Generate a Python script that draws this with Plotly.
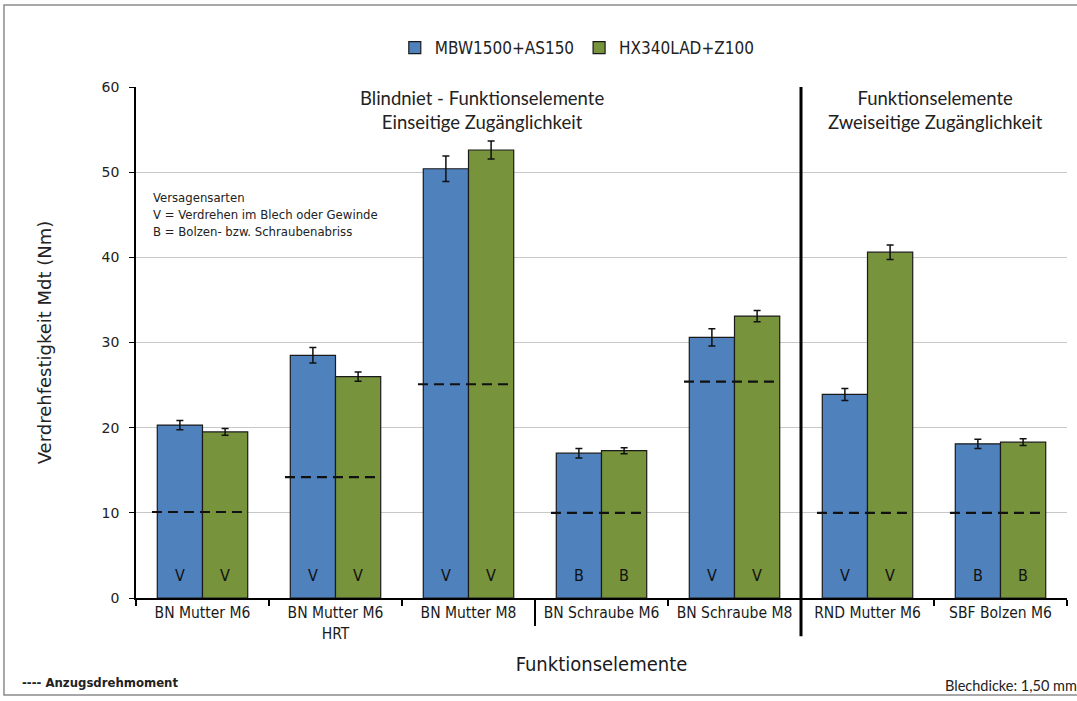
import plotly.graph_objects as go

# Test data: torsional strength of functional elements in two sheet materials
categories = ["BN Mutter M6", "BN Mutter M6<br>HRT", "BN Mutter M8", "BN Schraube M6",
              "BN Schraube M8", "RND Mutter M6", "SBF Bolzen M6"]
series_names = ["MBW1500+AS150", "HX340LAD+Z100"]
mbw_values = [20.3, 28.5, 50.4, 17.0, 30.6, 23.9, 18.1]
mbw_errors = [0.55, 0.9, 1.5, 0.55, 1.0, 0.7, 0.55]
hx_values = [19.5, 26.0, 52.6, 17.3, 33.1, 40.6, 18.3]
hx_errors = [0.4, 0.55, 1.05, 0.35, 0.65, 0.85, 0.4]
tightening_torque = [10.1, 14.2, 25.1, 10.0, 25.4, 10.0, 10.0]
mbw_failure = ["V", "V", "V", "B", "V", "V", "B"]
hx_failure = ["V", "V", "V", "B", "V", "V", "B"]

BLUE = "#4F81BD"
GREEN = "#77933C"
COND = "DejaVu Sans Condensed"
idx = list(range(len(categories)))
half = 0.34  # half width of a bar pair in category units

fig = go.Figure()
for name, vals, errs, col in [(series_names[0], mbw_values, mbw_errors, BLUE),
                              (series_names[1], hx_values, hx_errors, GREEN)]:
    fig.add_trace(go.Bar(
        x=idx, y=vals, name=name,
        marker=dict(color=col, line=dict(color="#1a1a1a", width=1.2)),
        error_y=dict(type="data", array=errs, visible=True, color="#111111",
                     thickness=1.5, width=3.5),
    ))

# Tightening torque reference lines (dashed) across each bar pair
for i, t in zip(idx, tightening_torque):
    fig.add_trace(go.Scatter(
        x=[i - half - 0.04, i + half], y=[t, t], mode="lines",
        line=dict(color="#111111", width=2.2, dash="10px,6px"),
        showlegend=False, hoverinfo="skip",
    ))

# Failure mode letters inside the bars
for i in idx:
    for off, lab in [(-half / 2, mbw_failure[i]), (half / 2, hx_failure[i])]:
        fig.add_annotation(x=i + off, y=2.6, text=lab, showarrow=False,
                           font=dict(family=COND, size=16, color="#111111"))

# Group separators
fig.add_shape(type="line", xref="x", yref="paper", x0=4.5, x1=4.5, y0=-0.075, y1=1.0,
              line=dict(color="black", width=3))
fig.add_shape(type="line", xref="x", yref="paper", x0=2.5, x1=2.5, y0=-0.055, y1=0.0,
              line=dict(color="black", width=2))

# Outer frame
fig.add_shape(type="rect", xref="paper", yref="paper", x0=-0.1418, x1=1.03,
              y0=-0.1898, y1=1.1605, line=dict(color="#8c8c8c", width=1.5), layer="below")

fig.add_annotation(x=2.1, y=1.003, xref="x", yref="paper", yanchor="top",
                   text="Blindniet - Funktionselemente<br>Einseitige Zugänglichkeit",
                   showarrow=False, font=dict(family="Lato", size=18.5, color="#222222"))
fig.add_annotation(x=5.51, y=1.003, xref="x", yref="paper", yanchor="top",
                   text="Funktionselemente<br>Zweiseitige Zugänglichkeit",
                   showarrow=False, font=dict(family="Lato", size=18.5, color="#222222"))
fig.add_annotation(x=-0.39, y=48.2, xref="x", yref="y", xanchor="left", yanchor="top",
                   align="left",
                   text="Versagensarten<br>V = Verdrehen im Blech oder Gewinde<br>"
                        "B = Bolzen- bzw. Schraubenabriss",
                   showarrow=False, font=dict(family=COND, size=13, color="#222222"))
fig.add_annotation(x=-0.125, y=-0.166, xref="paper", yref="paper", xanchor="left",
                   yanchor="middle",
                   text="<b>---- Anzugsdrehmoment</b>", showarrow=False,
                   font=dict(family=COND, size=13, color="#222222"))
fig.add_annotation(x=0.8668, y=-0.171, xref="paper", yref="paper", xanchor="left",
                   yanchor="middle",
                   text="Blechdicke: 1,50 mm", showarrow=False,
                   font=dict(family="Lato", size=14.5, color="#222222"))

fig.update_layout(
    width=1077, height=701,
    margin=dict(l=136, r=10, t=87, b=103),
    paper_bgcolor="white", plot_bgcolor="white",
    barmode="group", bargap=1 - 2 * half, bargroupgap=0,
    legend=dict(orientation="h", x=0.474, xanchor="center", y=1.076, yanchor="middle",
                font=dict(family=COND, size=17, color="#222222"), itemwidth=30,
                traceorder="normal"),
    xaxis=dict(
        range=[-0.5, 6.5], tickmode="array", tickvals=idx, ticktext=categories,
        ticks="", showgrid=False, zeroline=False,
        showline=True, linecolor="black", linewidth=1.5,
        tickfont=dict(family=COND, size=15.5, color="#1a1a1a"),
        minor=dict(tickmode="array", tickvals=[k - 0.5 for k in range(len(categories) + 1)],
                   ticks="outside", ticklen=6, tickcolor="black", tickwidth=1.5, showgrid=False),
        title=dict(text="Funktionselemente", standoff=15,
                   font=dict(family=COND, size=20, color="#1a1a1a")),
    ),
    yaxis=dict(
        range=[0, 60], dtick=10, showgrid=True, gridcolor="#c8c8c8", gridwidth=1,
        zeroline=False, showline=True, linecolor="black", linewidth=1.5,
        ticks="outside", ticklen=5, tickcolor="black", ticklabelstandoff=7,
        tickfont=dict(family="DejaVu Sans", size=14, color="#222222"),
        title=dict(text="Verdrehfestigkeit Mdt (Nm)", standoff=45,
                   font=dict(family="DejaVu Sans", size=18, color="#222222")),
    ),
)

fig.write_html("out.html")
